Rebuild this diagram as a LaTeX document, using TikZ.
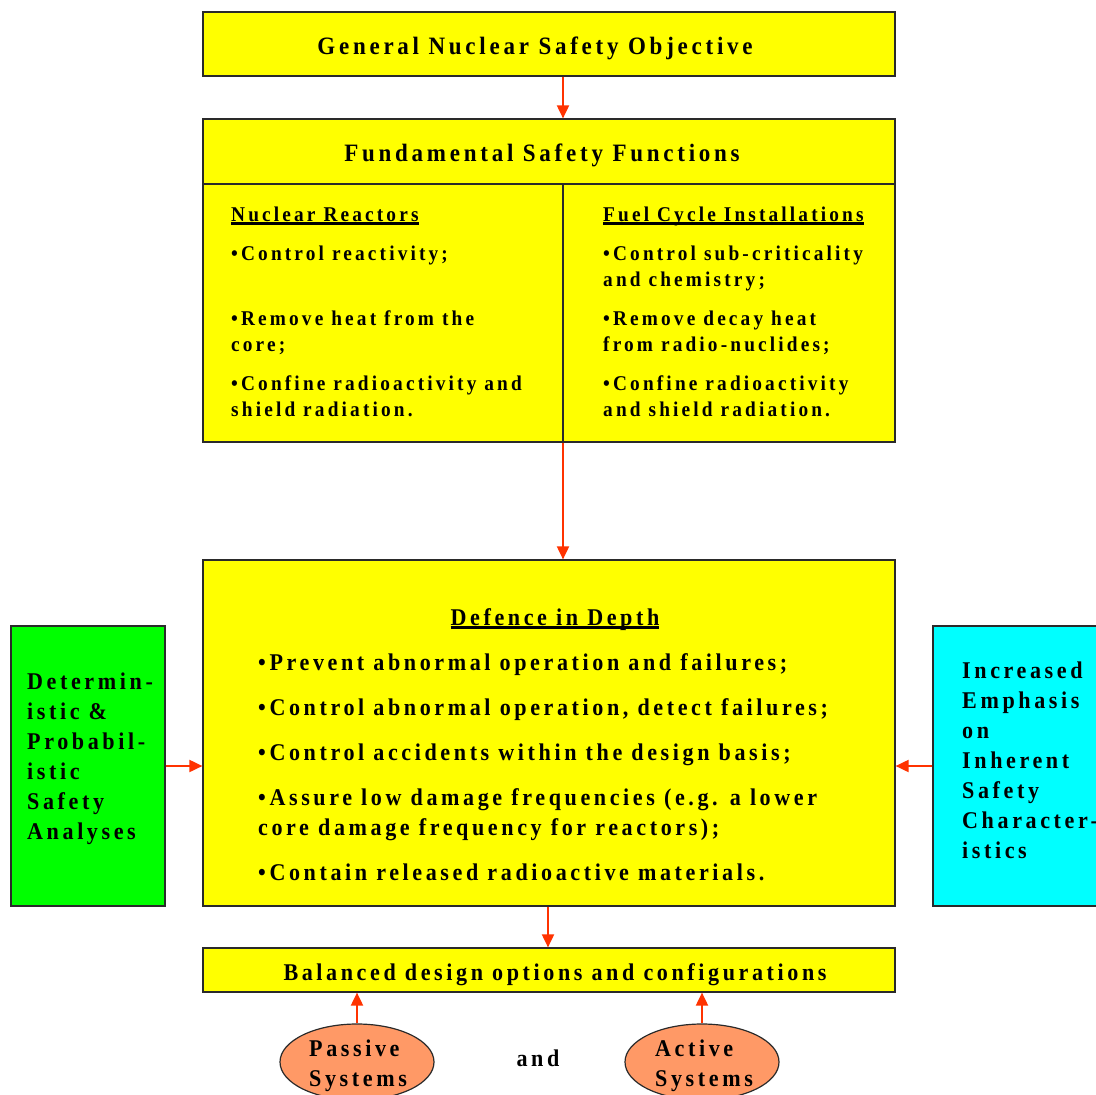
\documentclass[tikz,border=0pt]{standalone}
\usepackage{fontspec}
\setmainfont{Liberation Serif}[LetterSpace=15,FakeStretch=0.92]
\usepackage{xcolor}
\usetikzlibrary{arrows.meta,positioning,shapes.geometric}
\definecolor{boxyellow}{HTML}{FFFF00}
\definecolor{boxgreen}{HTML}{00FF00}
\definecolor{boxcyan}{HTML}{00FFFF}
\definecolor{ovalorange}{HTML}{FF9966}
\definecolor{arrred}{HTML}{FF3300}
\definecolor{edge}{HTML}{2A2A2A}
\newcommand{\ulhead}[1]{\setbox0=\hbox{#1}\rlap{\rule[-4pt]{\wd0}{2.6pt}}\box0}
\tikzset{
  blk/.style={draw=edge,line width=1.2pt,fill=boxyellow,inner sep=0pt},
  side/.style={blk,minimum width=154,minimum height=280},
  oval/.style={ellipse,draw=edge,line width=1.2pt,fill=ovalorange,inner sep=0pt,
               minimum width=154,minimum height=76},
  txt/.style={inner sep=0pt,font=\bfseries\fontsize{24}{30}\selectfont,align=left},
  small/.style={txt,font=\bfseries\fontsize{21}{26}\selectfont},
  arr/.style={-{Triangle[length=13pt,width=12pt]},line width=1.9pt,arrred},
}
\begin{document}
\begin{tikzpicture}[x=1pt,y=-1pt]
  \useasboundingbox (0,0) rectangle (1096,1095);
  \clip (0,0) rectangle (1096,1095);
  % boxes
  \node[blk,minimum width=692,minimum height=64] (goal) at (549,44) {};
  \node[blk,minimum width=692,minimum height=65] (fsf) at (549,151.5) {};
  \node[blk,minimum width=360,minimum height=258] (reac) at (383,313) {};
  \node[blk,minimum width=332,minimum height=258] (fuel) at (729,313) {};
  \node[blk,minimum width=692,minimum height=346] (did) at (549,733) {};
  \node[side,fill=boxgreen] (anal) at (88,766) {};
  \node[side,fill=boxcyan,minimum width=180] (inh) at (1023,766) {};
  \node[blk,minimum width=692,minimum height=44] (bal) at (549,970) {};
  \node[oval] (pas) at (357,1062) {};
  \node[oval] (act) at (702,1062) {};
  \coordinate (upper) at (563,0);
  \coordinate (lower) at (548,0);
  % texts (base = last line)
  \node[txt,anchor=base,font=\bfseries\fontsize{25}{30}\selectfont] (goalt) at (535,54) {General Nuclear Safety Objective};
  \node[txt,anchor=base,font=\bfseries\fontsize{25}{30}\selectfont] (fsft) at (542,161) {Fundamental Safety Functions};
  \node[small,anchor=base west] (react) at (231,416)
     {\ulhead{Nuclear Reactors}\\[13pt]
      •Control reactivity;\\[39pt]
      •Remove heat from the\\ core;\\[13pt]
      •Confine radioactivity and\\ shield radiation.};
  \node[small,anchor=base west] (fuelt) at (603,416)
     {\ulhead{Fuel Cycle Installations}\\[13pt]
      •Control sub-criticality\\ and chemistry;\\[13pt]
      •Remove decay heat\\ from radio-nuclides;\\[13pt]
      •Confine radioactivity\\ and shield radiation.};
  \node[txt,anchor=base] (didt) at (555,625) {\ulhead{Defence in Depth}};
  \node[txt,anchor=base west] (didl) at (258,880)
     {•Prevent abnormal operation and failures;\\[15pt]
      •Control abnormal operation, detect failures;\\[15pt]
      •Control accidents within the design basis;\\[15pt]
      •Assure low damage frequencies (e.g. a lower\\
      core damage frequency for reactors);\\[15pt]
      •Contain released radioactive materials.};
  \node[txt,anchor=base west] (analt) at (27,839)
     {Determin-\\ istic \&\\ Probabil-\\ istic\\ Safety\\ Analyses};
  \node[txt,anchor=base west] (inht) at (962,858)
     {Increased\\ Emphasis\\ on\\ Inherent\\ Safety\\ Character-\\ istics};
  \node[txt,anchor=base] (balt) at (555,980) {Balanced design options and configurations};
  \node[txt,anchor=base west] (past) at (309,1086) {Passive\\ Systems};
  \node[txt,anchor=base west] (actt) at (655,1086) {Active\\ Systems};
  \node[txt] (and) at (538,1058) {and};
  % arrows
  \draw[arr] (goal.south -| upper) -- (fsf.north -| upper);
  \draw[arr] (reac.south -| upper) -- (did.north -| upper);
  \draw[arr] (did.south -| lower) -- (bal.north -| lower);
  \draw[arr] (anal.east) -- (anal.east -| did.west);
  \draw[arr] (inh.west) -- (inh.west -| did.east);
  \draw[arr] (pas.north) -- (pas.north |- bal.south);
  \draw[arr] (act.north) -- (act.north |- bal.south);
\end{tikzpicture}
\end{document}
